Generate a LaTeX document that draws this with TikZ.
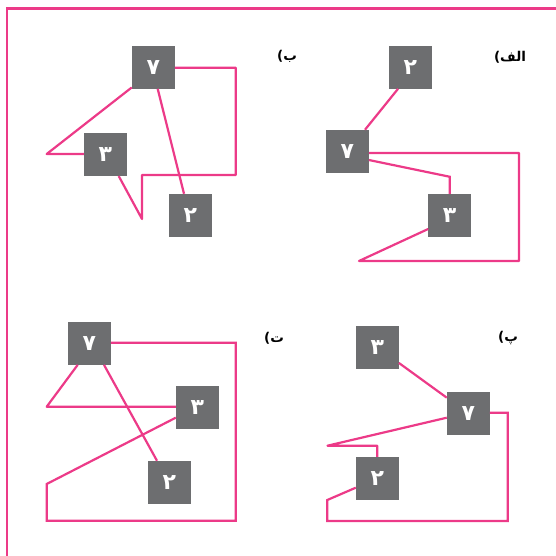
\documentclass[tikz,border=0pt]{standalone}
\usepackage{fontspec}
\newfontfamily\arabicfont[Script=Arabic]{DejaVu Sans}
\newfontfamily\parenfont{DejaVu Sans}
\TeXXeTstate=1
\usetikzlibrary{calc}
\definecolor{pinkline}{RGB}{236,58,136}
\definecolor{boxgrey}{RGB}{109,110,112}
\newcommand{\plabel}[1]{\mbox{\parenfont\bfseries (}\mbox{\arabicfont\bfseries #1}}
\begin{document}
\begin{tikzpicture}[x=1pt,y=-1pt,
  numbox/.style={fill=boxgrey, minimum size=42.7pt, inner sep=0pt, text=white,
    font=\arabicfont\bfseries\fontsize{22}{22}\selectfont},
  link/.style={draw=pinkline, line width=2.2pt, line join=miter},
  acute/.style={line join=round},
  frameline/.style={draw=pinkline, line width=2.4pt},
  lbl/.style={font=\fontsize{13.5}{15}\selectfont, inner sep=0pt}]
\useasboundingbox (0,0) rectangle (555,556);
\draw[frameline] (7,557) -- (7,8.5) -- (556,8.5);

% panel alef
\node[numbox] (A2) at (410.3,67.3) {۲};
\node[numbox] (A7) at (347.3,151.3) {۷};
\node[numbox] (A3) at (449.7,215.3) {۳};
\draw[link] ($(A7.north)+(17.7,0)$) -- ($(A2.south)+(-12.3,0)$);
\draw[link,acute] ($(A7.east)+(0,1.7)$) -- (519,153) -- (519,261) -- (359,261) -- ($(A3.west)+(0,13.7)$);
\draw[link] ($(A7.east)+(0,8.7)$) -- ($(A3.north)+(0,-17)$) -- (A3.north);
\node[lbl] (la) at (510,57) {\plabel{الف}};

% panel be
\node[numbox] (B7) at (153.3,67.3) {۷};
\node[numbox] (B3) at (105.3,154.5) {۳};
\node[numbox] (B2) at (190.3,215.3) {۲};
\draw[link,acute] ($(B7.east)+(0,0.4)$) -- (235.7,67.7) -- (235.7,175) -- (142,175) -- (142,219) -- ($(B3.south)+(13.4,0)$);
\draw[link,acute] ($(B7.south west)+(0,-1.4)$) -- (46.7,154) -- ($(B3.west)+(0,-0.5)$);
\draw[link] ($(B7.south)+(4.4,0)$) -- ($(B2.north)+(-6.3,0)$);
\node[lbl] (lb) at (287,56) {\plabel{ب}};

% panel te
\node[numbox] (T7) at (89.3,343.3) {۷};
\node[numbox] (T3) at (197.3,407.3) {۳};
\node[numbox] (T2) at (169.3,482.3) {۲};
\draw[link] ($(T7.east)+(0,-0.6)$) -- (235.7,342.7) -- (235.7,520.7) -- (46.7,520.7) -- (46.7,484) -- ($(T3.west)+(0,10.4)$);
\draw[link,acute] ($(T7.south)+(-11.6,0)$) -- (46.7,406.7) -- ($(T3.west)+(0,-0.6)$);
\draw[link] ($(T7.south)+(14.7,0)$) -- ($(T2.north)+(-12.3,0)$);
\node[lbl] (lt) at (274,338) {\plabel{ت}};

% panel pe
\node[numbox] (P3) at (377.3,347.3) {۳};
\node[numbox] (P7) at (468.3,413.3) {۷};
\node[numbox] (P2) at (377.3,478.3) {۲};
\draw[link] (P3) -- (P7);
\draw[link] ($(P7.east)+(0,-0.6)$) -- (507.7,412.7) -- (507.7,521) -- (327.3,521) -- (327.3,500) -- ($(P2.west)+(0,9.4)$);
\draw[link,acute] ($(P7.west)+(0,4.4)$) -- (327.5,445.7) -- (377.3,445.7) -- (P2.north);
\node[lbl] (lp) at (508,338) {\plabel{پ}};
\end{tikzpicture}
\end{document}
